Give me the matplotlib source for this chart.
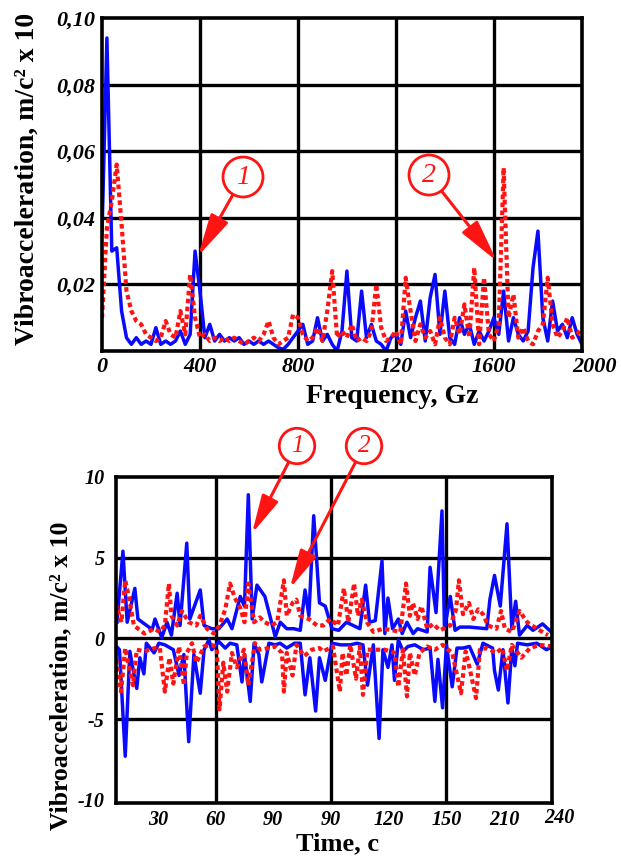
import numpy as np
import matplotlib
matplotlib.use("Agg")
import matplotlib.pyplot as plt

plt.rcParams["font.family"] = ["Liberation Serif", "DejaVu Serif"]

# ---- spectrum (top), 20 Hz step from 0 to 1960 Hz ----
freq = np.arange(0, 1961, 20)
spec_1 = [0.035, 0.094, 0.030, 0.031, 0.012, 0.004, 0.002, 0.004, 0.002, 0.003,
          0.002, 0.007, 0.002, 0.003, 0.002, 0.003, 0.006, 0.002, 0.005, 0.030,
          0.018, 0.004, 0.008, 0.003, 0.005, 0.003, 0.004, 0.003, 0.004, 0.002,
          0.003, 0.002, 0.003, 0.002, 0.003, 0.002, 0.001, 0.0005, 0.002, 0.004,
          0.006, 0.008, 0.002, 0.003, 0.010, 0.003, 0.005, 0.002, 0.000, 0.006,
          0.024, 0.004, 0.003, 0.018, 0.004, 0.008, 0.003, 0.002, 0.000, 0.004,
          0.005, 0.002, 0.012, 0.004, 0.010, 0.015, 0.003, 0.016, 0.023, 0.005,
          0.018, 0.004, 0.002, 0.010, 0.005, 0.008, 0.002, 0.006, 0.003, 0.006,
          0.010, 0.005, 0.018, 0.003, 0.010, 0.005, 0.003, 0.006, 0.025, 0.036,
          0.010, 0.003, 0.015, 0.006, 0.008, 0.004, 0.010, 0.005, 0.002]
spec_2 = [0.010, 0.037, 0.045, 0.056, 0.038, 0.018, 0.012, 0.009, 0.008, 0.005,
          0.004, 0.003, 0.004, 0.009, 0.005, 0.004, 0.012, 0.005, 0.023, 0.010,
          0.004, 0.005, 0.003, 0.004, 0.003, 0.004, 0.003, 0.004, 0.003, 0.002,
          0.003, 0.004, 0.003, 0.005, 0.009, 0.004, 0.002, 0.003, 0.004, 0.011,
          0.010, 0.005, 0.003, 0.004, 0.007, 0.003, 0.012, 0.024, 0.004, 0.006,
          0.004, 0.008, 0.003, 0.004, 0.003, 0.006, 0.020, 0.007, 0.003, 0.004,
          0.006, 0.002, 0.022, 0.012, 0.003, 0.008, 0.004, 0.006, 0.002, 0.010,
          0.004, 0.002, 0.010, 0.005, 0.014, 0.004, 0.025, 0.002, 0.022, 0.005,
          0.003, 0.008, 0.055, 0.010, 0.017, 0.004, 0.007, 0.003, 0.002, 0.006,
          0.008, 0.022, 0.008, 0.004, 0.006, 0.010, 0.004, 0.005, 0.007]

# ---- time signal (bottom): upper / lower envelopes of each record ----
t1_pos = [8.7, 11.8, 14, 18, 19.6, 23, 27, 28.5, 32, 34.7, 37, 40, 41.5, 45, 46.6,
          52, 54, 58, 61.7, 66, 68.5, 72.8, 75, 77, 79, 81.5, 85.6, 88, 91, 93.6,
          97, 100.7, 104, 106.5, 108.5, 111, 114, 117, 120.5, 124, 128, 135, 138,
          140, 143, 146.5, 148, 149.6, 152, 155, 157, 159.5, 162.7, 165, 170, 171.5,
          174.6, 177.7, 179, 182, 184.5, 187, 192, 201, 202.6, 205, 208, 211.5, 214,
          216, 218, 222, 225, 230, 235.4]
v1_pos = [1.0, 5.4, 1.0, 3.1, 1.2, 0.9, 0.55, 1.2, 0.05, 1.0, 0.2, 2.8, 0.8, 5.9, 1.2,
          3.0, 0.8, 0.6, 0.6, 1.2, 0.6, 2.6, 2.0, 8.9, 1.2, 3.3, 2.6, 1.5, 0.1, 1.0,
          0.6, 0.6, 0.5, 3.0, 1.4, 7.6, 2.2, 2.0, 0.6, 0.5, 1.0, 0.6, 3.3, 1.0, 1.1,
          4.8, 0.3, 2.5, 0.6, 1.2, 0.3, 1.0, 0.3, 0.6, 0.4, 4.4, 1.6, 7.9, 0.6, 2.6,
          0.5, 0.7, 0.7, 0.6, 2.4, 3.9, 2.0, 7.1, 0.6, 2.3, 0.2, 0.8, 0.5, 0.9, 0.3]
t1_neg = [7.6, 10, 13, 15.4, 17.5, 19, 20.6, 22.7, 24, 28, 30.5, 33.6, 38, 41, 43.5,
          46, 48.7, 52, 54, 56.5, 58, 61.7, 65, 67.5, 71, 73.7, 75, 78, 80, 82.5, 84,
          87.7, 91, 93.5, 97, 101, 104, 106.5, 109, 112, 114, 117, 120.5, 125, 130,
          133.5, 136.6, 139, 142, 145, 147, 149.6, 151.7, 153, 155, 157.5, 160, 163.6,
          168, 171.5, 174, 175.6, 178, 180, 183, 185.5, 188.6, 192, 196, 199, 204,
          205, 207, 209.4, 212, 214, 215.6, 217, 222, 227, 232, 235.4]
v1_neg = [-0.4, -0.7, -7.3, -0.8, -2.2, -3.1, -1.2, -2.2, -0.3, -0.9, -0.3, -0.4, -0.7,
          -2.3, -1.0, -6.4, -1.0, -3.4, -0.7, -0.1, -0.7, -0.2, -0.6, -0.3, -0.4, -2.7,
          -1.0, -3.9, -0.3, -1.0, -2.7, -0.3, -0.4, -0.3, -0.6, -0.3, -0.3, -3.5, -1.2,
          -4.5, -1.2, -2.6, -0.3, -0.4, -0.4, -0.3, -0.4, -2.9, -0.4, -6.2, -0.7, -1.8,
          -0.4, -2.6, -0.1, -0.8, -0.5, -0.4, -0.7, -0.6, -3.9, -1.3, -4.3, -0.4, -3.0,
          -0.6, -0.6, -0.5, -1.6, -0.3, -0.6, -2.0, -3.2, -0.7, -4.0, -0.6, -1.7, -0.3,
          -0.4, -0.3, -0.7, -0.5]
t2_pos = [7.6, 8.5, 11, 13, 15, 17.5, 23, 28, 31, 33.6, 35.7, 37, 40, 42.5, 46, 50, 52,
          55.5, 59, 62, 65, 67.5, 70, 72.8, 75, 77, 80, 83, 85.6, 89, 92, 95.5, 97, 100,
          102, 104, 108.5, 112.7, 116, 119.5, 123.6, 126.7, 129, 132, 134, 136, 138.7,
          142, 147, 152, 156, 159, 161, 162.6, 165, 167, 170, 173, 176.6, 182, 185,
          186.5, 188.6, 191.7, 194, 196.5, 199, 201.6, 206, 208.4, 210.4, 214, 218, 222,
          227, 232.8]
v2_pos = [0.8, 2.0, 1.0, 3.6, 2.5, 0.8, 0.3, 0.6, 0.4, 0.8, 3.4, 1.4, 0.8, 1.7, 1.0, 0.8,
          1.4, 0.6, 0.3, 0.8, 1.8, 3.4, 2.5, 1.9, 1.0, 3.4, 1.0, 1.3, 1.0, 0.8, 1.0, 3.6,
          1.4, 2.2, 2.4, 1.4, 1.2, 0.8, 0.8, 1.2, 0.8, 3.1, 1.0, 3.4, 1.4, 2.4, 1.0, 0.4,
          0.6, 0.5, 0.4, 3.4, 1.4, 2.2, 1.2, 2.0, 0.6, 0.9, 0.5, 0.8, 1.8, 3.6, 1.5, 2.2,
          1.2, 1.8, 1.5, 0.8, 0.6, 1.7, 0.6, 0.4, 1.7, 1.0, 0.6, 0.2]
t2_neg = [7.6, 9.7, 10.8, 13, 15, 17, 19, 23, 28.4, 31, 33.6, 36, 38, 41, 43.5, 45, 47.7,
          50, 54, 58, 60.6, 62, 64, 66, 68.5, 71, 74.7, 77, 80.5, 83, 87.7, 91, 94.5,
          95.5, 97, 100, 102, 106, 110, 114, 116, 121, 124.6, 126, 128, 130, 133, 135,
          136.6, 139, 144, 148, 153, 155, 157.4, 159.5, 161, 163.6, 166, 170, 174, 178,
          183, 187.6, 190, 192, 195.4, 197.4, 201, 206, 209, 211.5, 214, 219, 223.4,
          228.6, 234.8]
v2_neg = [-0.8, -2.4, -3.3, -0.6, -1.8, -2.9, -0.7, -0.8, -0.6, -0.6, -3.3, -1.2, -2.8,
          -0.5, -2.9, -0.9, -0.3, -1.5, -0.5, -0.4, -0.6, -4.4, -1.5, -3.3, -0.9, -1.8,
          -0.7, -2.9, -0.3, -0.7, -0.6, -0.5, -0.9, -3.3, -0.9, -2.3, -0.4, -1.1, -0.7,
          -0.6, -0.8, -0.5, -3.3, -0.9, -2.3, -0.4, -2.5, -0.5, -3.5, -0.7, -0.7, -0.7,
          -0.9, -3.0, -0.7, -3.6, -0.9, -2.3, -0.9, -0.5, -0.7, -0.4, -0.9, -3.4, -0.8,
          -1.8, -3.7, -0.7, -0.6, -0.9, -0.6, -2.0, -0.4, -1.2, -0.6, -0.4, -0.5]

freq_ticks = [0, 400, 800, 1200, 1600]
freq_labels = ["0", "400", "800", "120", "1600"]
spec_ticks = [0.02, 0.04, 0.06, 0.08, 0.10]
spec_labels = ["0,02", "0,04", "0,06", "0,08", "0,10"]
time_ticks = [30, 60, 90, 120, 150, 180, 210]
time_labels = ["30", "60", "90", "90", "120", "150", "210"]
sig_ticks = [-10, -5, 0, 5, 10]
sig_labels = ["-10", "-5", "0", "5", "10"]

BLUE = "#0a0aff"
RED = "#ff1414"
W, H = 621, 857

fig = plt.figure(figsize=(W / 100, H / 100), dpi=100)


def box(l, t, r, b):
    return [l / W, 1 - b / H, (r - l) / W, (b - t) / H]


ax1 = fig.add_axes(box(102, 18, 582, 351))
ax2 = fig.add_axes(box(116, 477, 552, 803))

tick_font = dict(fontweight="bold", fontstyle="italic")


def frame(ax):
    for s in ax.spines.values():
        s.set_linewidth(2.6)
        s.set_color("black")
        s.set_zorder(5)
    ax.tick_params(length=0)


# top panel
ax1.plot(freq, spec_1, color=BLUE, lw=2.5, zorder=3)
ax1.plot(freq, spec_2, color=RED, lw=3.0, linestyle=(0, (1.1, 0.8)), zorder=3)
for v in [400, 800, 1200, 1600]:
    ax1.axvline(v, color="black", lw=2.4, zorder=1)
for v in [0.02, 0.04, 0.06, 0.08]:
    ax1.axhline(v, color="black", lw=2.4, zorder=1)
ax1.set_xlim(0, 1960)
ax1.set_ylim(0, 0.10)
ax1.set_xticks(freq_ticks, freq_labels, fontsize=16, **tick_font)
ax1.set_yticks(spec_ticks, spec_labels, fontsize=16, **tick_font)
ax1.tick_params(axis="x", pad=4)
ax1.tick_params(axis="y", pad=5)
ax1.text(2012, -0.018, "2000", transform=ax1.get_xaxis_transform(),
         ha="center", va="top", fontsize=16, **tick_font)
frame(ax1)
ax1.set_xlabel("Frequency, Gz", fontsize=20, fontweight="bold")
ax1.xaxis.set_label_coords(0.604, -0.100)
ax1.set_ylabel("Vibroacceleration, m/c² x 10", fontsize=20, fontweight="bold")
ax1.yaxis.set_label_coords(-0.129, 0.516)

# bottom panel
ax2.plot(t1_pos, v1_pos, color=BLUE, lw=2.5, zorder=3)
ax2.plot(t1_neg, v1_neg, color=BLUE, lw=2.5, zorder=3)
ax2.plot(t2_pos, v2_pos, color=RED, lw=3.0, linestyle=(0, (1.1, 0.8)), zorder=3)
ax2.plot(t2_neg, v2_neg, color=RED, lw=3.0, linestyle=(0, (1.1, 0.8)), zorder=3)
for v in [60, 120, 180]:
    ax2.axvline(v, color="black", lw=2.4, zorder=1)
for v in [-5, 0, 5]:
    ax2.axhline(v, color="black", lw=2.4, zorder=1)
ax2.set_xlim(8.2, 234.9)
ax2.set_ylim(-10.2, 10)
ax2.set_xticks(time_ticks, time_labels, fontsize=14.5, **tick_font)
ax2.set_yticks(sig_ticks, sig_labels, fontsize=14.5, **tick_font)
ax2.tick_params(axis="x", pad=5)
ax2.tick_params(axis="y", pad=8)
ax2.text(239, -0.016, "240", transform=ax2.get_xaxis_transform(),
         ha="center", va="top", fontsize=14.5, **tick_font)
frame(ax2)
ax2.set_xlabel("Time, c", fontsize=19, fontweight="bold")
ax2.xaxis.set_label_coords(0.509, -0.090)
ax2.set_ylabel("Vibroacceleration, m/c² x 10", fontsize=18.5, fontweight="bold")
ax2.yaxis.set_label_coords(-0.101, 0.39)


def callout(ax, label, tip, center, fs):
    ax.annotate(label, xy=tip, xycoords="data",
                xytext=(center[0], H - center[1]), textcoords="figure pixels",
                ha="center", va="center", fontsize=fs, fontstyle="italic", color=RED,
                bbox=dict(boxstyle="circle,pad=0.27", fc="white", ec=RED, lw=2),
                arrowprops=dict(arrowstyle="-|>,head_length=1.3,head_width=0.3",
                                color=RED, lw=2.2, shrinkA=0, shrinkB=0),
                annotation_clip=False, zorder=6)


callout(ax1, "1", (392, 0.0285), (243, 177), 20)
callout(ax1, "2", (1612, 0.027), (429, 175), 20)
callout(ax2, "1", (78.9, 6.5), (297, 446), 18)
callout(ax2, "2", (98.6, 3.1), (364, 446), 18)

fig.savefig("out.png", dpi=100)
